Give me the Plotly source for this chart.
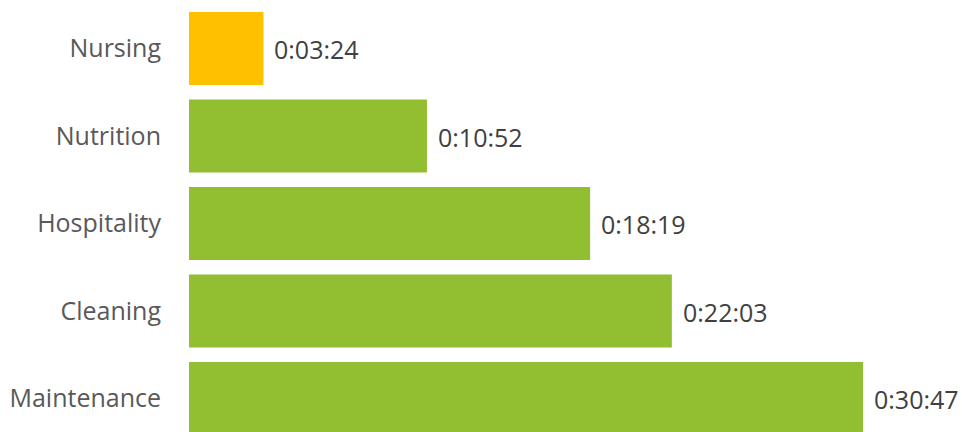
import plotly.graph_objects as go

categories = ["Nursing", "Nutrition", "Hospitality", "Cleaning", "Maintenance"]
durations_sec = [204, 652, 1099, 1323, 1847]
duration_labels = ["0:03:24", "0:10:52", "0:18:19", "0:22:03", "0:30:47"]
bar_colors = ["#FFC000", "#92BE32", "#92BE32", "#92BE32", "#92BE32"]

fig = go.Figure()
fig.add_trace(go.Bar(
    y=categories,
    x=durations_sec,
    orientation="h",
    marker=dict(color=bar_colors, line=dict(width=0)),
    hoverinfo="skip",
))

for cat, val, lab in zip(categories, durations_sec, duration_labels):
    fig.add_annotation(
        x=val, y=cat, text=lab, showarrow=False,
        xanchor="left", yanchor="middle", xshift=9, yshift=-1,
        font=dict(family="Open Sans", size=25, color="#404040"),
    )

fig.update_layout(
    width=962, height=432,
    margin=dict(l=189, r=0, t=0, b=0),
    plot_bgcolor="white", paper_bgcolor="white",
    bargap=0.166,
    showlegend=False,
    xaxis=dict(range=[0, 2118], visible=False, fixedrange=True),
    yaxis=dict(
        categoryorder="array", categoryarray=categories,
        range=[4.383, -0.554],
        showgrid=False, zeroline=False, showline=False,
        ticks="", ticklabelstandoff=27,
        tickfont=dict(family="Open Sans", size=25, color="#595959"),
    ),
)

fig.write_html("out.html")
